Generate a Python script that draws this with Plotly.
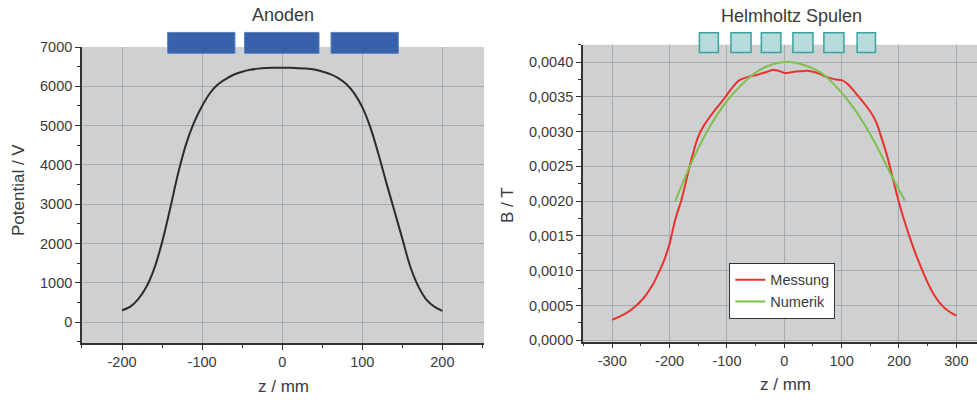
import plotly.graph_objects as go

# Anoden: berechneter Potentialverlauf entlang der Achse
z_pot = list(range(-200, 201, 10))  # mm
potential_V = [
    305, 390, 580, 880, 1350, 2030, 2880, 3780, 4530, 5080,
    5500, 5830, 6050, 6190, 6300, 6370, 6420, 6450, 6465, 6470,
    6472,
    6470, 6462, 6450, 6425, 6375, 6310, 6210, 6060, 5820, 5470,
    4960, 4290, 3550, 2840, 2125, 1410, 910, 575, 395, 288,
]

# Helmholtz Spulen: gemessenes Magnetfeld (T)
z_mess = list(range(-300, 301, 10))  # mm
b_messung = [
    0.000295, 0.000330, 0.000372, 0.000420, 0.000485, 0.000565, 0.000665,
    0.000790, 0.000955, 0.001140, 0.001390, 0.001740, 0.002000, 0.002330,
    0.002660, 0.002930, 0.003090, 0.003210, 0.003320, 0.003420, 0.003530,
    0.003640, 0.003730, 0.003770, 0.003795, 0.003810, 0.003835, 0.003860,
    0.003885, 0.003875, 0.003845, 0.003850, 0.003865, 0.003870, 0.003875,
    0.003860, 0.003835, 0.003800, 0.003770, 0.003750, 0.003740, 0.003690,
    0.003600, 0.003500, 0.003400, 0.003290, 0.003140, 0.002900, 0.002630,
    0.002300, 0.001980, 0.001700, 0.001450, 0.001220, 0.001020, 0.000830,
    0.000670, 0.000550, 0.000460, 0.000400, 0.000355,
]

# Helmholtz Spulen: numerisch berechnetes Magnetfeld (T)
z_num = list(range(-190, 211, 20))  # mm
b_numerik = [
    0.002000, 0.002400, 0.002760, 0.003070, 0.003330, 0.003540, 0.003710,
    0.003850, 0.003940, 0.003990, 0.004000, 0.003970, 0.003910, 0.003810,
    0.003650, 0.003460, 0.003230, 0.002960, 0.002650, 0.002320, 0.002010,
]

# Achsenbeschriftungen
pot_z_ticks = [-200, -100, 0, 100, 200]
pot_z_labels = ["-200", "-100", "0", "100", "200"]
b_z_ticks = [-300, -200, -100, 0, 100, 200, 300]
b_z_labels = ["-300", "-200", "-100", "0", "100", "200", "300"]

# Lage der Anoden und Spulen entlang z (mm)
anode_spans = [(-143, -59), (-47, 46), (61, 145)]
coil_spans = [(-148, -115), (-93, -58), (-40, -6), (15, 50), (69, 104), (127, 159)]

FONT = "Liberation Sans, Arial, sans-serif"
TXT = "#3a3a3a"
BG = "#cfd0d2"
GRID = "#a7abae"
AX = "#333333"

fig = go.Figure()

fig.add_trace(go.Scatter(
    x=z_pot, y=potential_V, mode="lines", name="gerechneter Potentialverlauf",
    line=dict(color="#2b2b2b", width=2, shape="spline"),
    xaxis="x", yaxis="y", legend="legend",
))
fig.add_trace(go.Scatter(
    x=z_mess, y=b_messung, mode="lines", name="Messung",
    line=dict(color="#e8332c", width=2, shape="spline"),
    xaxis="x2", yaxis="y2", legend="legend2",
))
fig.add_trace(go.Scatter(
    x=z_num, y=b_numerik, mode="lines", name="Numerik",
    line=dict(color="#7dc14c", width=2, shape="spline"),
    xaxis="x2", yaxis="y2", legend="legend2",
))

axis_common = dict(
    showline=True, linecolor=AX, linewidth=1.5,
    ticks="outside", ticklen=5, tickcolor=AX, tickwidth=1.2,
    showgrid=True, gridcolor=GRID, gridwidth=1,
    zeroline=False, automargin=False,
    tickfont=dict(family=FONT, size=14.5, color=TXT),
)

fig.update_layout(
    width=977, height=400,
    margin=dict(l=0, r=0, t=0, b=0),
    paper_bgcolor="white",
    plot_bgcolor=BG,
    separators=",.",
    font=dict(family=FONT, color=TXT),
    xaxis=dict(
        domain=[0.0839, 0.4954], range=[-250, 252], anchor="y",
        tickmode="array", tickvals=pot_z_ticks, ticktext=pot_z_labels,
        minor=dict(ticks="outside", ticklen=3, tickcolor=AX, dtick=50, tick0=0, showgrid=False),
        **axis_common,
    ),
    yaxis=dict(
        domain=[0.1425, 0.8825], range=[-530, 7000], anchor="x",
        tickmode="linear", tick0=0, dtick=1000,
        minor=dict(ticks="outside", ticklen=3, tickcolor=AX, dtick=500, tick0=0, showgrid=False),
        **axis_common,
    ),
    xaxis2=dict(
        domain=[0.5967, 1.0], range=[-351, 336], anchor="y2",
        tickmode="array", tickvals=b_z_ticks, ticktext=b_z_labels,
        minor=dict(ticks="outside", ticklen=3, tickcolor=AX, dtick=50, tick0=0, showgrid=False),
        **axis_common,
    ),
    yaxis2=dict(
        domain=[0.14575, 0.88825], range=[-0.00002, 0.00425], anchor="x2",
        tickmode="linear", tick0=0, dtick=0.0005, tickformat=".4f",
        minor=dict(ticks="outside", ticklen=3, tickcolor=AX, dtick=0.00025, tick0=0, showgrid=False),
        **axis_common,
    ),
    legend=dict(
        x=0.1594, y=0.2608, xanchor="left", yanchor="top",
        bgcolor="white", bordercolor=AX, borderwidth=1,
        font=dict(family=FONT, size=15, color=TXT),
    ),
    legend2=dict(
        x=0.7465, y=0.343, xanchor="left", yanchor="top",
        bgcolor="white", bordercolor=AX, borderwidth=1,
        font=dict(family=FONT, size=14.5, color=TXT),
    ),
)

# Anoden als blaue Blöcke oberhalb des Diagramms
for a0, a1 in anode_spans:
    fig.add_shape(type="rect", xref="x", yref="paper", x0=a0, x1=a1,
                  y0=0.8667, y1=0.919, fillcolor="#3761aa",
                  line=dict(color="#5b7fbf", width=1), layer="above")

# Spulen als türkise Quadrate
for c0, c1 in coil_spans:
    fig.add_shape(type="rect", xref="x2", yref="paper", x0=c0, x1=c1,
                  y0=0.869, y1=0.918, fillcolor="#b7dcdb",
                  line=dict(color="#3aa39f", width=1.5), layer="above")

# Überschriften und Achsentitel
notes = [
    dict(text="Anoden", x=0.2897, y=0.9625, size=18, angle=0),
    dict(text="Helmholtz Spulen", x=0.8106, y=0.96, size=18, angle=0),
    dict(text="z / mm", x=0.2897, y=1 - 386.5 / 400, size=17, angle=0),
    dict(text="z / mm", x=0.8035, y=1 - 384.5 / 400, size=17, angle=0),
    dict(text="Potential / V", x=18 / 977, y=1 - 190 / 400, size=17, angle=-90),
    dict(text="B / T", x=508 / 977, y=1 - 205 / 400, size=17, angle=-90),
]
for n in notes:
    fig.add_annotation(text=n["text"], x=n["x"], y=n["y"], xref="paper", yref="paper",
                       xanchor="center", yanchor="middle", showarrow=False,
                       textangle=n["angle"],
                       font=dict(family=FONT, size=n["size"], color=TXT))

fig.write_html("out.html")
